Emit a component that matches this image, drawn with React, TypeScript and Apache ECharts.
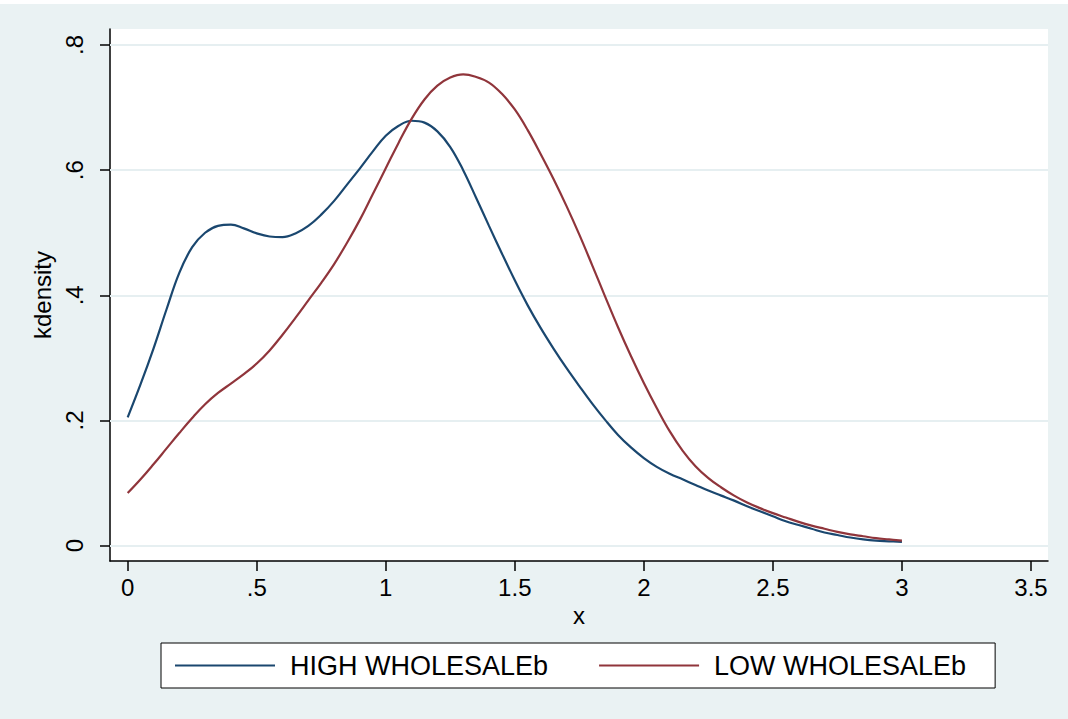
import React, { useEffect, useRef } from "react";
import * as echarts from "echarts";

const X = [
  0, 0.05, 0.1, 0.15, 0.2, 0.25, 0.3, 0.35, 0.4, 0.45, 0.5, 0.55, 0.6, 0.65, 0.7, 0.75, 0.8, 0.85, 0.9, 0.95,
  1, 1.05, 1.1, 1.15, 1.2, 1.25, 1.3, 1.35, 1.4, 1.45, 1.5, 1.55, 1.6, 1.65, 1.7, 1.75, 1.8, 1.85, 1.9, 1.95,
  2, 2.05, 2.1, 2.15, 2.2, 2.25, 2.3, 2.35, 2.4, 2.45, 2.5, 2.55, 2.6, 2.65, 2.7, 2.75, 2.8, 2.85, 2.9, 2.95, 3,
];

const HIGH = [
  0.205, 0.258, 0.315, 0.377, 0.436, 0.477, 0.5, 0.511, 0.513, 0.507, 0.499, 0.494, 0.493, 0.499, 0.511, 0.529, 0.551, 0.577, 0.603, 0.63,
  0.655, 0.671, 0.679, 0.676, 0.662, 0.637, 0.6, 0.556, 0.511, 0.467, 0.424, 0.384, 0.348, 0.315, 0.284, 0.255, 0.227, 0.201, 0.177, 0.157,
  0.14, 0.126, 0.115, 0.106, 0.097, 0.088, 0.08, 0.072, 0.063, 0.055, 0.047, 0.039, 0.033, 0.027, 0.021, 0.017, 0.013, 0.01, 0.008, 0.007, 0.006,
];

const LOW = [
  0.084, 0.106, 0.13, 0.155, 0.18, 0.204, 0.226, 0.244, 0.259, 0.274, 0.291, 0.312, 0.337, 0.364, 0.392, 0.42, 0.45, 0.484, 0.521, 0.562,
  0.603, 0.644, 0.682, 0.713, 0.735, 0.748, 0.753, 0.749, 0.74, 0.722, 0.697, 0.664, 0.626, 0.586, 0.543, 0.497, 0.448, 0.398, 0.349, 0.303,
  0.26, 0.22, 0.183, 0.152, 0.127, 0.108, 0.093, 0.08, 0.069, 0.06, 0.052, 0.045, 0.038, 0.032, 0.027, 0.022, 0.018, 0.015, 0.012, 0.01, 0.008,
];

const X_TICKS = [0, 0.5, 1, 1.5, 2, 2.5, 3, 3.5];
const Y_TICKS = [0, 0.2, 0.4, 0.6, 0.8];
const SERIES_NAMES = ["HIGH WHOLESALEb", "LOW WHOLESALEb"];
const COLORS = ["#1a476f", "#90353b"];

const fmt = (v: number) => {
  if (v === 0) return "0";
  let s = String(Math.round(v * 10) / 10);
  if (s.startsWith("0.")) s = s.slice(1);
  return s;
};

const FONT = "'Liberation Sans', Arial, sans-serif";

export default function App() {
  const ref = useRef<HTMLDivElement>(null);
  useEffect(() => {
    if (!ref.current) return;
    const chart = echarts.init(ref.current, null, { renderer: "svg" });
    const mk = (ys: number[]) => X.map((x, i) => [x, ys[i]]);
    chart.setOption({
      animation: false,
      backgroundColor: "#EAF2F3",
      textStyle: { fontFamily: FONT, color: "#000" },
      graphic: [
        { type: "rect", left: 0, top: 0, shape: { width: 1068, height: 4 }, style: { fill: "#ffffff" }, silent: true },
      ],
      grid: {
        left: 110,
        top: 29,
        right: 20,
        bottom: 158,
        show: true,
        backgroundColor: "#ffffff",
        borderWidth: 0,
      },
      legend: {
        data: SERIES_NAMES,
        left: 161,
        top: 643,
        orient: "horizontal",
        icon: "rect",
        itemWidth: 100,
        itemHeight: 2,
        itemGap: 51,
        padding: [9, 29, 9, 14],
        borderColor: "#000",
        borderWidth: 1,
        backgroundColor: "#ffffff",
        borderRadius: 0,
        textStyle: { fontSize: 27, fontFamily: FONT, color: "#000", padding: [0, 0, 0, 10] },
      },
      xAxis: {
        type: "value",
        min: -0.0685,
        max: 3.566,
        name: "x",
        nameLocation: "middle",
        nameGap: 39,
        nameTextStyle: { fontSize: 24, fontFamily: FONT, color: "#000" },
        axisLine: { show: true, onZero: false, lineStyle: { color: "#000", width: 1.5 } },
        axisTick: { show: true, length: 10, lineStyle: { color: "#000", width: 1.5 }, customValues: X_TICKS },
        axisLabel: { fontSize: 24, fontFamily: FONT, color: "#000", margin: 14, formatter: fmt, customValues: X_TICKS },
        splitLine: { show: false },
      },
      yAxis: {
        type: "value",
        min: -0.0245,
        max: 0.8256,
        name: "kdensity",
        nameLocation: "middle",
        nameGap: 53,
        nameRotate: 90,
        nameTextStyle: { fontSize: 24, fontFamily: FONT, color: "#000" },
        axisLine: { show: true, onZero: false, lineStyle: { color: "#000", width: 1.5 } },
        axisTick: { show: true, length: 10, lineStyle: { color: "#000", width: 1.5 }, customValues: Y_TICKS },
        axisLabel: { fontSize: 24, fontFamily: FONT, color: "#000", margin: 24, rotate: 90, formatter: fmt, customValues: Y_TICKS },
        splitLine: { show: false },
      },
      series: [
        {
          name: SERIES_NAMES[0],
          type: "line",
          data: mk(HIGH),
          showSymbol: false,
          smooth: 0.4,
          color: COLORS[0],
          lineStyle: { color: COLORS[0], width: 2.2 },
          z: 3,
          markLine: {
            silent: true,
            symbol: "none",
            label: { show: false },
            lineStyle: { color: "#E6EFF1", width: 2, type: "solid" },
            data: Y_TICKS.map((v) => ({ yAxis: v })),
            z: 1,
          },
        },
        {
          name: SERIES_NAMES[1],
          type: "line",
          data: mk(LOW),
          showSymbol: false,
          smooth: 0.4,
          color: COLORS[1],
          lineStyle: { color: COLORS[1], width: 2.2 },
          z: 3,
        },
      ],
    });
    return () => chart.dispose();
  }, []);
  return (
    <div
      ref={ref}
      style={{ position: "fixed", left: 0, top: 0, width: 1068, height: 719 }}
    />
  );
}
